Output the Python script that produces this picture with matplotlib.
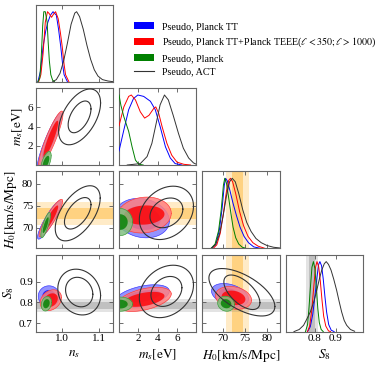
import numpy as np
import matplotlib.pyplot as plt
from matplotlib.patches import Patch
from matplotlib.lines import Line2D

plt.rcParams['font.family'] = ['Liberation Serif', 'DejaVu Serif']
plt.rcParams['mathtext.fontset'] = 'stix'

# parameters, axis labels, ranges, ticks
labels = [r'$n_s$', r'$m_s[\mathrm{eV}]$', r'$H_0[\mathrm{km/s/Mpc}]$', r'$S_8$']
limits = [(0.929, 1.139), (0.0, 8.0), (65.3, 82.9), (0.66, 1.03)]
xticks = [[1.0, 1.1], [2, 4, 6], [70, 75, 80], [0.8, 0.9]]
yticks = [[1.0, 1.1], [2, 4, 6], [70, 75, 80], [0.7, 0.8, 0.9]]
ticklabels = {0: ['1.0', '1.1'], 3: ['0.7', '0.8', '0.9']}

names = ['Pseudo, Planck TT',
         r'Pseudo, Planck TT+Planck TEEE($\ell<350;\ell>1000$)',
         'Pseudo, Planck', 'Pseudo, ACT']
colors = ['blue', 'red', 'green', '#333333']

# external measurements (mean, 1 sigma)
H0_band = (73.3, 1.3)
S8_band = (0.786, 0.015)

# 1D marginals (x, relative height)
ns_blue = ([0.935, 0.942, 0.949, 0.956, 0.962, 0.969, 0.976, 0.985, 0.991, 0.997, 1.002, 1.006, 1.015],
           [0, 0.15, 0.5, 0.72, 0.85, 0.95, 1.0, 0.95, 0.75, 0.5, 0.25, 0.1, 0])
ns_red = ([0.937, 0.943, 0.949, 0.955, 0.961, 0.966, 0.972, 0.978, 0.983, 0.990, 0.996, 1.001, 1.006, 1.010, 1.019],
          [0, 0.1, 0.4, 0.85, 1.0, 0.97, 0.92, 0.97, 1.0, 0.9, 0.7, 0.5, 0.25, 0.1, 0])
ns_green = ([0.935, 0.940, 0.944, 0.948, 0.951, 0.955, 0.960, 0.963, 0.966, 0.970, 0.975, 0.980],
            [0, 0.05, 0.35, 0.8, 1.0, 1.0, 0.85, 0.55, 0.3, 0.1, 0.02, 0])
ns_act = ([0.975, 0.985, 0.995, 1.005, 1.015, 1.025, 1.035, 1.040, 1.048, 1.058, 1.068, 1.078, 1.088, 1.098, 1.110, 1.125, 1.139],
          [0, 0.03, 0.12, 0.3, 0.55, 0.82, 0.98, 1.0, 0.93, 0.75, 0.52, 0.32, 0.17, 0.08, 0.03, 0.01, 0])

ms_blue = ([0.0, 0.5, 1.0, 1.5, 1.95, 2.55, 3.25, 3.75, 4.25, 4.8, 5.3, 5.8, 6.5],
           [0.2, 0.5, 0.79, 0.95, 1.0, 0.98, 0.91, 0.79, 0.55, 0.26, 0.1, 0.02, 0])
ms_red = ([0.0, 0.5, 1.0, 1.27, 1.7, 2.2, 2.65, 3.1, 3.6, 3.8, 4.1, 4.45, 4.95, 5.45, 6.0, 6.7, 7.4],
          [0.56, 0.83, 0.98, 1.0, 0.93, 0.76, 0.67, 0.71, 0.81, 0.83, 0.74, 0.55, 0.31, 0.14, 0.04, 0.01, 0])
ms_green = ([0.0, 0.2, 0.5, 1.0, 1.35, 1.7, 2.05, 2.5],
            [1.0, 0.85, 0.69, 0.48, 0.26, 0.07, 0.01, 0])
ms_act = ([0.85, 2.2, 2.9, 3.4, 3.85, 4.25, 4.7, 5.1, 5.6, 6.15, 6.65, 7.2, 7.7, 8.0],
          [0, 0.02, 0.12, 0.31, 0.6, 0.86, 1.0, 0.93, 0.71, 0.45, 0.24, 0.1, 0.03, 0.01])

H0_blue = ([67.5, 68.4, 69.2, 69.8, 70.3, 70.6, 71.0, 71.6, 72.3, 73.1, 73.9, 74.8, 75.8, 77.0, 78.5],
           [0, 0.06, 0.27, 0.57, 0.9, 1.0, 0.96, 0.82, 0.64, 0.46, 0.3, 0.17, 0.08, 0.02, 0])
H0_red = ([67.8, 68.6, 69.4, 70.1, 70.8, 71.3, 71.7, 72.2, 72.9, 73.8, 74.7, 75.7, 76.8, 78.0, 79.5],
          [0, 0.05, 0.22, 0.5, 0.82, 0.97, 1.0, 0.95, 0.78, 0.52, 0.32, 0.17, 0.08, 0.03, 0])
H0_green = ([67.3, 68.2, 69.0, 69.6, 70.1, 70.4, 70.8, 71.3, 71.8, 72.3, 72.9, 73.6, 74.4, 75.2],
            [0, 0.06, 0.25, 0.55, 0.9, 1.0, 0.93, 0.72, 0.5, 0.3, 0.15, 0.06, 0.015, 0])
H0_act = ([67.3, 68.3, 69.2, 70.0, 70.8, 71.5, 72.1, 72.8, 73.6, 74.5, 75.4, 76.4, 77.5, 78.7, 80.0, 81.5, 82.9],
          [0, 0.05, 0.2, 0.45, 0.75, 0.95, 1.0, 0.95, 0.78, 0.55, 0.37, 0.24, 0.14, 0.08, 0.04, 0.015, 0.005])

S8_blue = ([0.765, 0.778, 0.790, 0.800, 0.810, 0.818, 0.824, 0.832, 0.840, 0.848, 0.856, 0.866, 0.878, 0.892],
           [0, 0.07, 0.25, 0.5, 0.78, 0.96, 1.0, 0.94, 0.75, 0.5, 0.28, 0.1, 0.02, 0])
S8_red = ([0.765, 0.775, 0.785, 0.795, 0.803, 0.810, 0.818, 0.826, 0.834, 0.842, 0.852, 0.865, 0.875],
          [0, 0.08, 0.3, 0.65, 0.92, 1.0, 0.93, 0.72, 0.45, 0.22, 0.08, 0.01, 0])
S8_green = ([0.755, 0.765, 0.772, 0.779, 0.786, 0.793, 0.800, 0.807, 0.814, 0.821, 0.830, 0.840],
            [0, 0.1, 0.35, 0.65, 0.92, 1.0, 0.9, 0.62, 0.33, 0.13, 0.03, 0])
S8_act = ([0.700, 0.725, 0.746, 0.765, 0.778, 0.795, 0.809, 0.822, 0.833, 0.845, 0.854, 0.865, 0.877,
           0.890, 0.904, 0.916, 0.928, 0.940, 0.952, 0.970, 0.990],
          [0, 0.03, 0.09, 0.2, 0.28, 0.43, 0.59, 0.76, 0.88, 0.97, 1.0, 0.96, 0.88, 0.75, 0.59, 0.43,
           0.28, 0.16, 0.09, 0.03, 0.005])

marginals = [[ns_blue, ns_red, ns_green, ns_act],
             [ms_blue, ms_red, ms_green, ms_act],
             [H0_blue, H0_red, H0_green, H0_act],
             [S8_blue, S8_red, S8_green, S8_act]]

# 2D contours: rows = blue, red, green, ACT
# cx, cy, half-width 95%, half-height 95%, half-width 68%, half-height 68%, correlation
ns_ms = [[0.966, 2.5, 0.033, 2.9, 0.020, 1.8, 0.92],
         [0.970, 2.7, 0.033, 2.9, 0.020, 1.9, 0.90],
         [0.957, 0.3, 0.014, 1.1, 0.009, 0.65, 0.6],
         [1.048, 5.0, 0.057, 2.9, 0.031, 1.65, 0.5]]
ns_H0 = [[0.966, 71.8, 0.032, 4.4, 0.019, 2.8, 0.9],
         [0.970, 72.2, 0.032, 4.3, 0.020, 2.9, 0.9],
         [0.956, 70.6, 0.013, 2.9, 0.008, 1.8, 0.8],
         [1.043, 73.3, 0.061, 6.3, 0.036, 3.6, 0.55]]
ns_S8 = [[0.965, 0.830, 0.029, 0.050, 0.018, 0.030, 0.0],
         [0.970, 0.811, 0.029, 0.050, 0.019, 0.033, 0.25],
         [0.958, 0.794, 0.014, 0.035, 0.009, 0.022, 0.2],
         [1.047, 0.850, 0.058, 0.110, 0.037, 0.071, -0.15]]
ms_H0 = [[2.4, 72.2, 2.8, 4.5, 1.9, 2.7, -0.15],
         [2.6, 72.9, 2.8, 4.1, 2.1, 2.2, 0.1],
         [0.1, 71.3, 1.3, 3.1, 0.8, 1.8, 0.0],
         [4.9, 73.4, 2.8, 6.1, 1.7, 3.4, 0.25]]
ms_S8 = [[2.4, 0.830, 2.8, 0.055, 1.9, 0.030, 0.45],
         [2.6, 0.815, 2.8, 0.058, 2.1, 0.036, 0.45],
         [0.15, 0.792, 1.25, 0.034, 0.75, 0.021, 0.0],
         [4.9, 0.853, 2.8, 0.126, 1.6, 0.072, 0.25]]
H0_S8 = [[71.6, 0.836, 4.2, 0.055, 2.6, 0.033, -0.35],
         [72.4, 0.822, 4.1, 0.055, 2.7, 0.035, -0.2],
         [70.7, 0.794, 1.9, 0.036, 1.2, 0.022, -0.1],
         [74.3, 0.849, 7.5, 0.114, 4.1, 0.083, -0.6]]

pairs = {(1, 0): ns_ms, (2, 0): ns_H0, (3, 0): ns_S8,
         (2, 1): ms_H0, (3, 1): ms_S8, (3, 2): H0_S8}


def ellipse(cx, cy, hx, hy, rho):
    t = np.linspace(0, 2 * np.pi, 200)
    x = cx + hx * np.cos(t)
    y = cy + hy * (rho * np.cos(t) + np.sqrt(1 - rho ** 2) * np.sin(t))
    return x, y


def lighten(c, f):
    r, g, b = plt.matplotlib.colors.to_rgb(c)
    return (r + (1 - r) * f, g + (1 - g) * f, b + (1 - b) * f)


def bands(ax, idx, vertical):
    for k, band, col in [(2, H0_band, 'orange'), (3, S8_band, 'gray')]:
        if idx != k:
            continue
        m, s = band
        span = ax.axvspan if vertical else ax.axhspan
        span(m - 2 * s, m + 2 * s, color=col, alpha=0.22, lw=0, zorder=0)
        span(m - s, m + s, color=col, alpha=0.35, lw=0, zorder=0)


fig = plt.figure(figsize=(3.85, 3.68), dpi=100)
W, H = 385.0, 368.0
x0, y0, step, aw, ah = 35.7, 4.7, 83.3, 77.4, 77.0

for i in range(4):
    for j in range(i + 1):
        ax = fig.add_axes([(x0 + j * step) / W, 1 - (y0 + i * step + ah) / H, aw / W, ah / H])
        ax.set_xlim(limits[j])
        if i == j:
            bands(ax, i, True)
            for c, (xs, ps) in zip(colors, marginals[i]):
                ax.plot(xs, ps, color=c, lw=0.7, zorder=3)
            ax.set_ylim(0, 1.1)
            ax.set_yticks([])
        else:
            ax.set_ylim(limits[i])
            bands(ax, j, True)
            bands(ax, i, False)
            for c, row in zip(colors, pairs[(i, j)]):
                cx, cy, hx2, hy2, hx1, hy1, rho = row
                xo, yo = ellipse(cx, cy, hx2, hy2, rho)
                xi, yi = ellipse(cx, cy, hx1, hy1, rho)
                if c == colors[3]:
                    ax.plot(xo, yo, color=c, lw=0.8, zorder=4)
                    ax.plot(xi, yi, color=c, lw=0.8, zorder=4)
                else:
                    ax.fill(xo, yo, color=lighten(c, 0.5), alpha=0.85, lw=0.5, zorder=2)
                    ax.plot(xo, yo, color=c, lw=0.4, alpha=0.6, zorder=2)
                    ax.fill(xi, yi, color=c, alpha=0.8, lw=0, zorder=2)
            ax.set_yticks(yticks[i])
            if j == 0:
                ax.set_yticklabels(ticklabels.get(i, [str(t) for t in yticks[i]]))
                ax.set_ylabel(labels[i], fontsize=9.5, labelpad=2)
            else:
                ax.set_yticklabels([])
        ax.set_xticks(xticks[j])
        if i == 3:
            ax.set_xticklabels(['%g' % t if j != 0 else '%.1f' % t for t in xticks[j]])
            ax.set_xlabel(labels[j], fontsize=9.5, labelpad=3)
        else:
            ax.set_xticklabels([])
        ax.tick_params(direction='in', top=True, right=(i != j), length=3, width=0.6,
                       colors='#555555', labelcolor='black', labelsize=8, pad=2)
        for sp in ax.spines.values():
            sp.set_color('#666666')
            sp.set_linewidth(0.8)

handles = [Patch(facecolor=c, edgecolor='none') for c in colors[:3]]
handles.append(Line2D([], [], color=colors[3], lw=0.8))
fig.legend(handles, names, loc='upper left', bbox_to_anchor=(134 / W, 1 - 22 / H),
           frameon=False, fontsize=7.2, handlelength=2.0, handleheight=0.75,
           handletextpad=0.75, labelspacing=0.45, borderpad=0, borderaxespad=0)

fig.savefig('out.png', dpi=100)
